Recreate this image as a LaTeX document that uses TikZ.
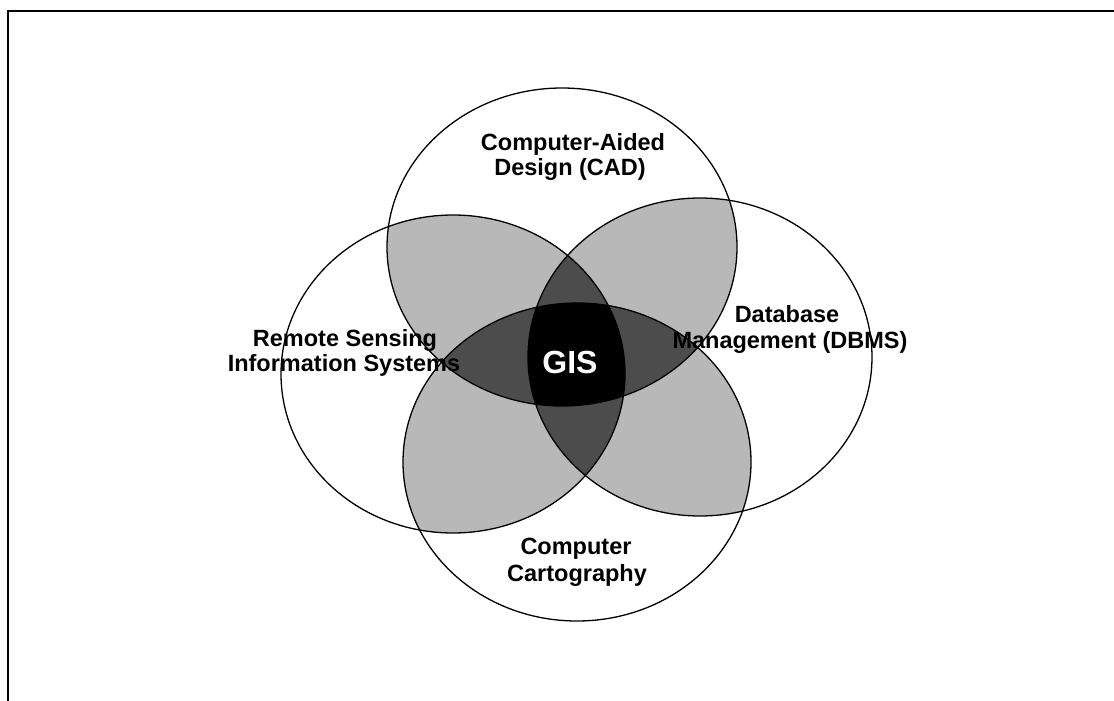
\documentclass[tikz,border=0pt]{standalone}
\usepackage{fontspec}
\setmainfont{Liberation Sans}
\definecolor{petal}{gray}{0.72}
\definecolor{triple}{gray}{0.30}
% the four overlapping discs (slightly wider than tall)
\def\discT{(562,247) ellipse [x radius=175pt, y radius=159pt]}
\def\discB{(577,462) ellipse [x radius=174pt, y radius=159pt]}
\def\discL{(453,374) ellipse [x radius=172pt, y radius=159pt]}
\def\discR{(700,357) ellipse [x radius=172pt, y radius=159pt]}
\begin{document}
\begin{tikzpicture}[x=1pt,y=-1pt,
  lbl/.style={font=\bfseries\fontsize{23.5}{25.5}\selectfont, text=black, inner sep=0pt, anchor=base},
  rim/.style={draw=black, line width=1.3pt}]
\useasboundingbox (0,0) rectangle (1114,701);
\fill[white] (0,0) rectangle (1114,701);

% overlaps of neighbouring discs
\begin{scope}\clip \discT; \fill[petal] \discL; \fill[petal] \discR; \end{scope}
\begin{scope}\clip \discB; \fill[petal] \discL; \fill[petal] \discR; \end{scope}
% overlaps of three discs
\begin{scope}\clip \discT; \fill[triple] \discB; \end{scope}
\begin{scope}\clip \discL; \fill[triple] \discR; \end{scope}
% common core of all four
\begin{scope}\clip \discT; \clip \discB; \clip \discL; \fill[black] \discR; \end{scope}

% outlines
\path[rim] \discT;
\path[rim] \discB;
\path[rim] \discL;
\path[rim] \discR;

% labels
\node[lbl] (cadA) at (573,150) {Computer-Aided};
\node[lbl] (cadB) at (570,175) {Design (CAD)};
\node[lbl] (rsA) at (345,346) {Remote Sensing};
\node[lbl] (rsB) at (344,371) {Information Systems};
\node[lbl] (dbA) at (787,322) {Database};
\node[lbl] (dbB) at (790,348) {Management (DBMS)};
\node[lbl] (ccA) at (576,554) {Computer};
\node[lbl] (ccB) at (577,581) {Cartography};
\node[font=\bfseries\fontsize{32}{34}\selectfont, text=white, inner sep=0pt] (gis) at (570,362) {GIS};

% frame edges
\draw[line width=2pt] (8,701) -- (8,11) -- (1114,11);
\end{tikzpicture}
\end{document}
